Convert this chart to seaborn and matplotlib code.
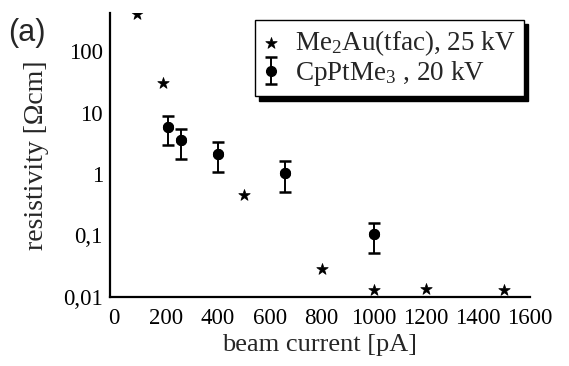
import numpy as np
import pandas as pd
import matplotlib
matplotlib.use("Agg")
import matplotlib.pyplot as plt
import seaborn as sns
from matplotlib.ticker import FixedLocator, FixedFormatter, LogLocator, NullFormatter, MultipleLocator

# ---- data ----
au_current = [90, 190, 500, 800, 1000, 1200, 1500]
au_resist = [400, 30, 0.45, 0.028, 0.013, 0.0135, 0.013]

pt_current = [210, 260, 400, 660, 1000]
pt_resist = [5.9, 3.55, 2.1, 1.05, 0.104]
pt_err_low = [2.95, 1.77, 1.07, 0.52, 0.052]
pt_err_high = [9.0, 5.4, 3.3, 1.66, 0.16]

x_ticks = [0, 200, 400, 600, 800, 1000, 1200, 1400, 1600]
x_ticklabels = ["0", "200", "400", "600", "800", "1000", "1200", "1400", "1600"]
y_ticks = [0.01, 0.1, 1, 10, 100]
y_ticklabels = ["0,01", "0,1", "1", "10", "100"]

label_au = "Me$_2$Au(tfac), 25 kV"
label_pt = "CpPtMe$_3$ , 20 kV"

sns.set_theme(style="white")
plt.rcParams["font.family"] = ["Liberation Serif", "DejaVu Serif"]
plt.rcParams["mathtext.default"] = "regular"

fig = plt.figure(figsize=(5.69, 3.66), dpi=100)
ax = fig.add_axes([0.193, 0.189, 0.738, 0.775])

df_au = pd.DataFrame({"current": au_current, "resist": au_resist})
df_pt = pd.DataFrame({"current": pt_current, "resist": pt_resist,
                      "lo": pt_err_low, "hi": pt_err_high})

sns.scatterplot(data=df_au, x="current", y="resist", marker="*", s=75,
                color="black", edgecolor="black", linewidth=0.5, ax=ax,
                label=label_au, legend=False, zorder=3)
sns.scatterplot(data=df_pt, x="current", y="resist", marker="o", s=55,
                color="black", edgecolor="black", ax=ax, legend=False, zorder=3)
yerr = np.array([df_pt["resist"] - df_pt["lo"], df_pt["hi"] - df_pt["resist"]])
eb = ax.errorbar(df_pt["current"], df_pt["resist"], yerr=yerr, fmt="o",
                 color="black", ms=7, capsize=4.5, capthick=1.8, elinewidth=1.4,
                 label=label_pt, zorder=2)

ax.set_yscale("log")
ax.set_xlim(-15, 1600)
ax.set_ylim(0.01, 420)

ax.xaxis.set_major_locator(FixedLocator(x_ticks))
ax.xaxis.set_major_formatter(FixedFormatter(x_ticklabels))
ax.xaxis.set_minor_locator(MultipleLocator(100))
ax.yaxis.set_major_locator(FixedLocator(y_ticks))
ax.yaxis.set_major_formatter(FixedFormatter(y_ticklabels))
ax.yaxis.set_minor_locator(LogLocator(base=10, subs=np.arange(2, 10)))
ax.yaxis.set_minor_formatter(NullFormatter())

for s in ["top", "right"]:
    ax.spines[s].set_visible(False)
for s in ["left", "bottom"]:
    ax.spines[s].set_color("black")
    ax.spines[s].set_linewidth(1.6)

ax.tick_params(axis="both", which="major", direction="inout", length=6, width=1.2,
               colors="black", labelsize=16.5, pad=2)
ax.tick_params(axis="x", which="major", pad=5)
ax.tick_params(axis="both", which="minor", direction="in", length=3, width=0.8,
               colors="black")

ax.set_xlabel("beam current [pA]", fontsize=19, labelpad=4)
ax.set_ylabel("resistivity [\u03a9cm]", fontsize=20, labelpad=10)

handles, labels = ax.get_legend_handles_labels()
star_h = [h for h, l in zip(handles, labels) if l == label_au][0]
leg = ax.legend([star_h, eb], [label_au, label_pt], loc="upper right",
                bbox_to_anchor=(1.0, 0.995), fontsize=19.5, frameon=True,
                fancybox=False, shadow={"color": "black", "alpha": 1.0, "ox": 3, "oy": -3},
                handlelength=0.6, handletextpad=0.6, borderpad=0.3,
                labelspacing=0.05, borderaxespad=0.2)
leg.get_frame().set_edgecolor("black")
leg.get_frame().set_linewidth(1.0)

fig.text(0.014, 0.91, "(a)", fontsize=22, va="center",
         family=["Liberation Sans", "DejaVu Sans"])

fig.savefig("out.png", dpi=100)
